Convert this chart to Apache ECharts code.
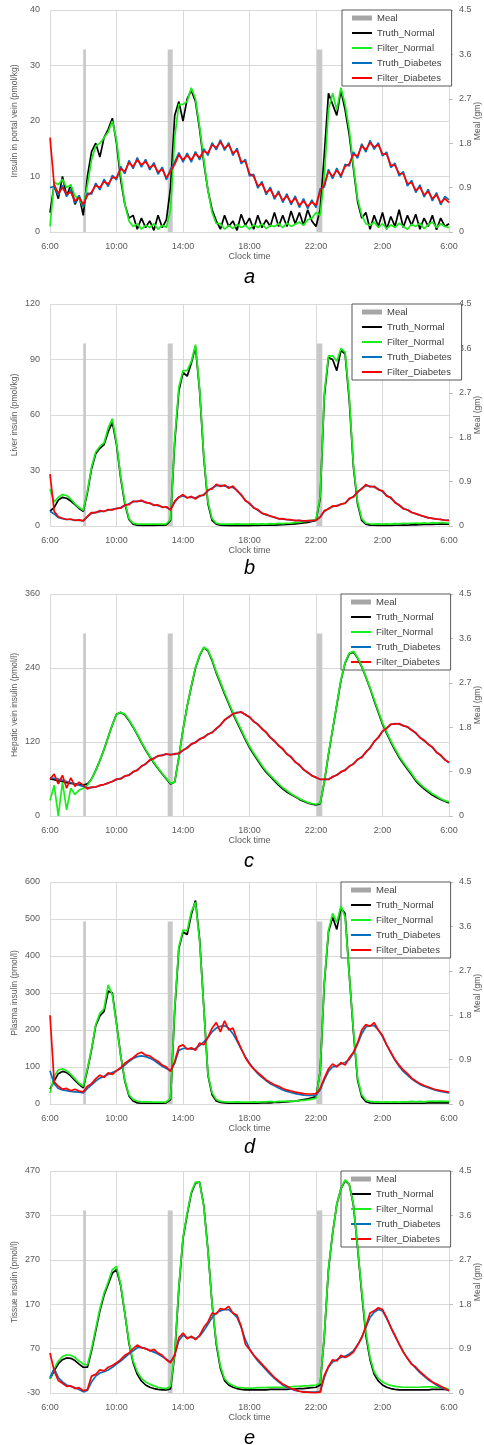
<!DOCTYPE html>
<html>
<head>
<meta charset="utf-8">
<script src="https://cdn.jsdelivr.net/npm/echarts@6/dist/echarts.min.js"></script>
<style>
  html, body { margin: 0; padding: 0; background: #fff; }
  #chart { width: 484px; height: 1445px; }
</style>
</head>
<body>
<div id="chart"></div>
<script>
// sampling grid: hours after 6:00, one point every 15 min
const times = Array.from({ length: 97 }, (_, i) => i / 4);
const clockLabels = ['6:00', '10:00', '14:00', '18:00', '22:00', '2:00', '6:00'];
const seriesNames = ['Truth_Normal', 'Filter_Normal', 'Truth_Diabetes', 'Filter_Diabetes'];
const panelLetters = ['a', 'b', 'c', 'd', 'e'];
const yNames = ['Insulin in portal vein (pmol/kg)', 'Liver insulin (pmol/kg)', 'Hepatic vein insulin (pmol/l)', 'Plasma insulin (pmol/l)', 'Tissue insulin (pmol/l)'];
const yMin = [0, 0, 0, 0, -30];
const yMax = [40, 120, 360, 600, 470];
const yStep = [10, 30, 120, 100, 100];

// meals (hours after 6:00, size in gm)
const mealStart = [2.0, 7.08, 16.06];
const mealEnd = [2.16, 7.38, 16.38];
const mealSize = [3.7, 3.7, 3.7];

// a - portal vein
const aTruthNormal = [
  3.5, 8.5, 6, 10, 6.5, 8.5, 5, 6.5,
  3, 10, 14.5, 16, 13.5, 17, 18.5, 20.5,
  16, 9.5, 5, 2.5, 3, 0.5, 2.5, 0.8,
  2, 0.3, 3, 0.8, 2.2, 8, 21, 23.5,
  20, 24, 25.5, 23.5, 18.5, 12.5, 7.5, 4,
  2, 0.5, 3, 1, 2, 0.3, 3.2, 1.2,
  2.5, 0.5, 3, 0.8, 2.2, 1, 3.5, 1,
  3, 1, 3.8, 1.5, 3.5, 1.2, 4, 2,
  1, 4, 14, 25, 23, 21, 25.5, 22,
  17.5, 11.5, 5.5, 2.5, 3.5, 0.5, 3, 1,
  3.5, 0.5, 2.8, 1, 4, 0.8, 3, 1.2,
  3.2, 0.5, 2.5, 1, 3, 0.4, 2.5, 1,
  1.5
];
const aFilterNormal = [
  1, 9, 8.5, 9.5, 8, 8.5, 6.5, 6,
  4.5, 8.5, 13, 15.5, 16, 17, 18, 20,
  16.5, 10.5, 5, 2, 1, 1.5, 0.5, 1.2,
  0.8, 1.5, 0.5, 1.2, 0.8, 4, 17, 23,
  23, 23.5, 26, 24, 19, 13, 7.5, 3.5,
  1.5, 1.5, 0.5, 1.2, 0.6, 1.4, 0.8, 1.2,
  0.5, 1.3, 0.8, 1.5, 0.6, 1.2, 1, 1.5,
  0.8, 1.6, 1, 1.4, 1.8, 1.2, 2.2, 2.5,
  3.5, 3, 10, 22, 25, 22, 26, 23,
  18.5, 12, 6, 3, 1.5, 1.2, 1.8, 0.8,
  1.5, 0.6, 1.3, 0.8, 1.6, 1, 0.5, 1.4,
  1, 1.6, 0.6, 1.3, 1.8, 0.8, 1.5, 1,
  0.8
];
const aTruthDiabetes = [
  8, 8.2, 6.6, 8.4, 6.4, 7.6, 5.2, 6.6,
  4.6, 7, 6.8, 8.8, 7.6, 9.5, 8.2, 10.2,
  9.4, 11.8, 10.5, 12.9, 11.4, 13.4, 11.7, 13.1,
  11.2, 12.5, 10.4, 11.7, 9.4, 11.3, 12.6, 14.3,
  12.6, 14.2, 12.6, 14.5, 13, 15, 13.8, 16.1,
  14.8, 16.6, 14.7, 16.1, 13.8, 15.1, 12.3, 13.1,
  10.1, 10.4, 7.9, 9.1, 6.7, 8.1, 5.9, 7.4,
  5.3, 6.9, 4.9, 6.5, 4.4, 6, 4.2, 5.8,
  4.4, 7.8, 8.1, 11.3, 9.6, 11.5, 9.8, 12.2,
  11.9, 14.4, 13.3, 15.9, 14.4, 16.5, 14.9, 16.1,
  13.7, 14.4, 11.6, 12.4, 10.1, 10.9, 8.3, 9.3,
  7.1, 8.5, 6.3, 7.7, 5.6, 7.1, 4.9, 6.4,
  5.8
];
const aFilterDiabetes = [
  17, 8.5, 7, 8, 6.8, 7.2, 5.6, 6.2,
  5, 6.6, 7.2, 8.4, 8, 9.1, 8.6, 9.8,
  9.8, 11.4, 10.9, 12.5, 11.8, 13, 12.1, 12.7,
  11.6, 12.1, 10.8, 11.3, 9.8, 10.9, 12.2, 13.9,
  13, 13.8, 13, 14.1, 13.4, 14.6, 14.2, 15.7,
  15.2, 16.2, 15.1, 15.7, 14.2, 14.7, 12.7, 12.7,
  10.5, 10, 8.3, 8.7, 7.1, 7.7, 6.3, 7,
  5.7, 6.5, 5.3, 6.1, 4.8, 5.6, 4.6, 5.4,
  4.8, 7.4, 8.5, 10.9, 10, 11.1, 10.2, 11.8,
  12.3, 14, 13.7, 15.5, 14.8, 16.1, 15.3, 15.7,
  14.1, 14, 12, 12, 10.5, 10.5, 8.7, 8.9,
  7.5, 8.1, 6.7, 7.3, 6, 6.7, 5.3, 6,
  5.3
];

// b - liver
const bTruthNormal = [
  8, 10, 14, 15.5, 15, 13.5, 11.5, 9.5,
  8, 18, 31, 39, 42, 44, 51, 56,
  44, 26, 12, 3.5, 1, 0.5, 0.3, 0.3,
  0.3, 0.3, 0.4, 0.5, 0.6, 3, 45, 73,
  83, 81, 88, 97, 73, 37, 12, 3,
  1, 0.5, 0.3, 0.2, 0.2, 0.2, 0.2, 0.2,
  0.2, 0.3, 0.3, 0.4, 0.4, 0.5, 0.5, 0.6,
  0.7, 0.8, 1, 1.2, 1.4, 1.7, 2, 2.5,
  3, 15, 70, 91, 90, 84, 95, 93,
  68, 32, 12, 3, 1, 0.5, 0.4, 0.3,
  0.3, 0.3, 0.3, 0.4, 0.4, 0.5, 0.5, 0.6,
  0.6, 0.7, 0.8, 0.8, 0.9, 1, 1, 1,
  1
];
const bFilterNormal = [
  20, 13, 15.5, 17, 16.5, 14.5, 12, 10,
  8.5, 19, 32, 40, 43, 45, 53, 58,
  45, 27, 13, 4, 1.5, 1, 1, 1,
  1, 1, 1, 1, 1.2, 3.5, 47, 75,
  84, 84, 89, 98, 74, 38, 13, 4,
  1.5, 1, 1, 1, 1, 1.2, 1, 1,
  1, 1.2, 1, 1.2, 1, 1.3, 1.2, 1.4,
  1.3, 1.5, 1.6, 1.8, 2, 2.3, 2.6, 3,
  3.5, 16, 72, 92, 92, 89, 96, 94,
  70, 33, 13, 4, 1.5, 1.2, 1, 1.2,
  1, 1.2, 1, 1.3, 1.2, 1.5, 1.3, 1.5,
  1.6, 1.4, 1.7, 1.5, 1.8, 1.6, 1.9, 1.7,
  1.5
];
const bTruthDiabetes = [
  8, 6.5, 4.6, 4, 3.6, 3.5, 3.1, 3,
  2.9, 5, 6.8, 7.4, 7.8, 8.1, 8.5, 9,
  9.4, 10, 11, 12, 13, 13.4, 13.4, 13,
  12.2, 11.5, 11, 10.4, 10, 9, 12.8, 15.6,
  16.2, 15.5, 15.4, 15.2, 16, 17, 19, 20.6,
  21.8, 22, 21.6, 21, 20.8, 19.4, 16.6, 14,
  12, 10, 8.5, 7, 6, 5.4, 4.6, 4,
  3.7, 3.5, 3.2, 3, 2.9, 2.8, 2.8, 2.9,
  3, 4.8, 7.8, 9.4, 10.4, 11, 11.6, 12.4,
  14.4, 16, 18, 20.4, 21.8, 21.6, 21, 20,
  18.6, 16.6, 15, 13, 11.2, 9.6, 8.6, 7.4,
  6.6, 5.9, 5.1, 4.6, 4.1, 3.8, 3.5, 3.2,
  3
];
const bFilterDiabetes = [
  28, 8, 5, 4.2, 3.5, 3.8, 3, 3.3,
  2.8, 5.2, 7.3, 7.2, 8.4, 7.8, 8.9, 8.7,
  9.5, 9.6, 11.4, 11.6, 13.5, 13.1, 14, 12.6,
  12.4, 11.1, 11.4, 10.1, 10.4, 8.6, 13.4, 15.6,
  17, 15.1, 16, 14.6, 16.5, 16.6, 19.6, 20,
  22.6, 21.4, 22.2, 20.4, 21.6, 19, 17, 13.6,
  12.4, 9.7, 8.9, 6.8, 6.3, 5.3, 4.8, 3.9,
  4, 3.4, 3.4, 2.9, 3.1, 2.7, 2.9, 2.9,
  3.1, 4.8, 8.3, 9.2, 10.9, 10.7, 11.9, 12.2,
  15, 15.6, 18.6, 20, 22.5, 21.1, 21.5, 19.6,
  19, 16.1, 15.5, 12.6, 11.4, 9.2, 8.8, 7.3,
  6.7, 5.8, 5.2, 4.4, 4.1, 3.7, 3.6, 3.1,
  3
];

// c - hepatic vein
const cTruthNormal = [
  60, 59, 57, 56, 54, 53, 52, 51,
  50, 52, 60, 74, 90, 108, 128, 148,
  165, 168, 164, 155, 144, 132, 119, 107,
  96, 86, 77, 68, 60, 52, 55, 95,
  140, 178, 210, 240, 260, 273, 268, 252,
  232, 215, 198, 182, 166, 152, 138, 124,
  111, 100, 90, 80, 71, 64, 57, 50,
  44, 39, 35, 31, 27, 24, 21, 19,
  18, 20, 55, 100, 140, 180, 220, 248,
  263, 266, 256, 242, 225, 207, 187, 168,
  149, 134, 120, 107, 95, 85, 76, 67,
  57, 50, 44, 39, 34, 30, 27, 24,
  21
];
const cFilterNormal = [
  25, 50, 0, 55, 10, 45, 35, 42,
  45, 50, 60, 74, 90, 108, 128, 148,
  165, 168, 165, 156, 145, 133, 120, 108,
  97, 87, 78, 69, 61, 53, 55, 95,
  140, 178, 211, 241, 261, 274, 269, 254,
  234, 217, 200, 184, 168, 154, 140, 126,
  113, 102, 92, 82, 73, 66, 59, 52,
  46, 41, 36, 32, 28, 25, 22, 20,
  19, 21, 56, 101, 141, 181, 221, 249,
  264, 267, 257, 243, 226, 208, 189, 170,
  151, 136, 122, 109, 97, 87, 78, 69,
  59, 52, 46, 41, 36, 32, 28, 25,
  23
];
const cTruthDiabetes = [
  62, 61, 60, 58, 56, 54, 52, 50,
  48, 46, 46, 47, 49, 51, 53, 56,
  59, 61, 64, 67, 71, 75, 80, 85,
  90, 94, 97, 99, 100, 100, 100, 102,
  106, 111, 116, 120, 124, 128, 132, 136,
  141, 148, 155, 161, 165, 168, 168, 165,
  160, 154, 148, 142, 135, 128, 121, 115,
  108, 101, 95, 88, 82, 76, 70, 66,
  62, 60, 59, 60, 63, 67, 71, 75,
  80, 85, 91, 96, 103, 111, 120, 128,
  137, 143, 148, 150, 149, 147, 144, 140,
  134, 128, 122, 117, 111, 104, 98, 92,
  86
];
const cFilterDiabetes = [
  60, 68, 52, 66, 45, 62, 48, 55,
  50, 44, 47, 47, 50, 51, 54, 56,
  60, 60, 65, 66, 72, 74, 81, 84,
  91, 93, 98, 98, 101, 99, 101, 101,
  107, 110, 117, 119, 125, 127, 133, 135,
  142, 147, 156, 160, 166, 167, 169, 164,
  161, 153, 149, 141, 136, 127, 122, 114,
  109, 100, 96, 87, 83, 75, 71, 65,
  63, 59, 60, 59, 64, 66, 72, 74,
  81, 84, 92, 95, 104, 110, 121, 127,
  138, 142, 149, 149, 150, 146, 145, 139,
  135, 127, 123, 116, 112, 103, 99, 91,
  87
];

// d - plasma
const dTruthNormal = [
  40, 62, 82, 88, 85, 76, 64, 53,
  44, 92, 147, 212, 238, 250, 305, 300,
  218, 132, 62, 22, 8, 3, 2, 2,
  2, 2, 2, 2, 3, 12, 252, 420,
  465, 458, 512, 550, 445, 262, 78, 25,
  8, 4, 3, 2, 2, 2, 2, 2,
  2, 2, 2, 3, 3, 3, 4, 4,
  5, 6, 7, 8, 10, 12, 14, 17,
  20, 88, 325, 465, 505, 472, 530, 515,
  350, 195, 65, 20, 6, 3, 2, 2,
  2, 2, 2, 2, 2, 2, 2, 2,
  2, 2, 2, 3, 3, 3, 3, 3,
  3
];
const dFilterNormal = [
  30, 75, 92, 95, 90, 80, 68, 56,
  48, 95, 150, 215, 245, 258, 322, 295,
  215, 130, 65, 25, 12, 8, 6, 6,
  6, 5, 5, 5, 6, 15, 259, 425,
  470, 468, 520, 545, 440, 260, 80, 30,
  12, 7, 6, 5, 5, 6, 5, 5,
  5, 6, 5, 6, 6, 7, 6, 7,
  7, 8, 7, 8, 9, 10, 11, 13,
  15, 90, 330, 470, 515, 490, 535, 505,
  349, 200, 70, 25, 10, 7, 6, 6,
  5, 6, 5, 6, 5, 6, 6, 7,
  6, 7, 6, 7, 8, 7, 8, 7,
  7
];
const dTruthDiabetes = [
  90, 55, 42, 38, 36, 34, 33, 32,
  30, 42, 52, 62, 70, 75, 80, 85,
  90, 96, 105, 115, 123, 128, 130, 128,
  124, 118, 110, 102, 96, 90, 110, 145,
  150, 150, 148, 150, 158, 168, 180, 195,
  205, 210, 212, 205, 190, 170, 148, 128,
  110, 95, 82, 72, 63, 55, 49, 43,
  38, 34, 31, 28, 26, 24, 23, 23,
  24, 38, 65, 88, 100, 103, 108, 112,
  120, 138, 162, 190, 208, 212, 212, 200,
  182, 160, 138, 118, 102, 88, 78, 68,
  60, 53, 48, 44, 40, 37, 34, 32,
  30
];
const dFilterDiabetes = [
  240, 60, 48, 40, 42, 36, 40, 35,
  33, 48, 55, 68, 78, 72, 84, 80,
  90, 98, 110, 118, 125, 135, 140, 132,
  130, 122, 115, 105, 100, 88, 115, 155,
  160, 148, 152, 145, 165, 160, 180, 205,
  220, 195, 225, 200, 205, 175, 150, 125,
  108, 95, 85, 75, 65, 58, 52, 48,
  42, 38, 35, 32, 30, 28, 27, 27,
  28, 42, 70, 95, 108, 100, 112, 105,
  125, 140, 165, 200, 215, 210, 220, 200,
  185, 160, 140, 120, 105, 92, 82, 70,
  62, 55, 50, 46, 42, 38, 36, 34,
  32
];

// e - tissue
const eTruthNormal = [
  2, 20, 36, 45, 49, 48, 43, 35,
  28, 28, 65, 110, 155, 190, 215, 240,
  248, 212, 150, 82, 38, 12, -3, -12,
  -17, -20, -22, -23, -23, -21, 55, 205,
  318, 372, 420, 443, 445, 392, 292, 170,
  80, 25, -2, -12, -17, -20, -22, -23,
  -23, -23, -23, -23, -23, -22, -22, -22,
  -22, -22, -21, -21, -20, -20, -19, -18,
  -17, -12, 98, 248, 330, 395, 430, 448,
  440, 393, 298, 195, 100, 45, 12, -3,
  -12, -17, -20, -22, -23, -23, -23, -23,
  -23, -23, -23, -23, -22, -22, -22, -22,
  -23
];
const eFilterNormal = [
  2, 25, 42, 52, 56, 55, 50, 42,
  35, 33, 70, 115, 160, 195, 220, 248,
  255, 215, 150, 85, 42, 18, 3, -5,
  -10, -14, -17, -19, -20, -15, 60, 210,
  320, 375, 423, 445, 445, 390, 290, 170,
  85, 30, 2, -8, -13, -17, -18, -19,
  -19, -19, -18, -18, -18, -17, -17, -17,
  -17, -16, -16, -15, -15, -14, -14, -13,
  -12, -8, 100, 250, 330, 395, 430, 450,
  440, 395, 300, 200, 107, 50, 18, 3,
  -5, -10, -13, -15, -16, -17, -17, -17,
  -17, -17, -16, -16, -16, -17, -17, -18,
  -22
];
const eTruthDiabetes = [
  5, 25, 5, -5, -12, -15, -18, -22,
  -27, -24, -5, 8, 15, 18, 22, 28,
  35, 42, 50, 58, 65, 72, 73, 70,
  66, 62, 58, 52, 46, 40, 55, 88,
  100, 95, 95, 93, 98, 110, 125, 140,
  150, 155, 158, 158, 150, 140, 118, 90,
  70, 55, 42, 32, 22, 12, 3, -5,
  -12, -17, -21, -24, -26, -27, -28, -28,
  -28, -27, 5, 28, 40, 45, 50, 53,
  58, 65, 78, 95, 118, 140, 152, 158,
  155, 138, 118, 98, 80, 63, 48, 36,
  26, 16, 8, 0, -6, -12, -17, -21,
  -25
];
const eFilterDiabetes = [
  60, 20, -2, -8, -15, -14, -20, -18,
  -25, -22, 8, 12, 22, 20, 28, 32,
  38, 45, 55, 60, 70, 78, 72, 70,
  65, 68, 60, 55, 45, 38, 55, 95,
  105, 92, 98, 90, 100, 118, 130, 150,
  148, 160, 158, 165, 150, 145, 120, 80,
  68, 55, 45, 35, 25, 15, 5, -3,
  -10, -15, -20, -23, -26, -28, -28, -29,
  -29, -28, 10, 30, 45, 42, 55, 50,
  55, 62, 78, 95, 120, 150, 155, 162,
  158, 140, 118, 100, 80, 62, 48, 35,
  28, 18, 10, 2, -5, -10, -15, -20,
  -25
];

const panels = [
  [aTruthNormal, aFilterNormal, aTruthDiabetes, aFilterDiabetes],
  [bTruthNormal, bFilterNormal, bTruthDiabetes, bFilterDiabetes],
  [cTruthNormal, cFilterNormal, cTruthDiabetes, cFilterDiabetes],
  [dTruthNormal, dFilterNormal, dTruthDiabetes, dFilterDiabetes],
  [eTruthNormal, eFilterNormal, eTruthDiabetes, eFilterDiabetes]
];

const lineColors = ['#000000', '#1aee1a', '#0070c0', '#ff0000'];
const gridTops = [10, 304, 594, 882, 1171];
const legendLefts = [342, 352, 341, 341, 341];
const letterY = [277, 568, 861, 1147, 1438];
const FONT = 'Liberation Sans';
const GRID_COLOR = '#d9d9d9';
const LABEL_COLOR = '#595959';
const LINE_ICON = 'path://M0,0H20V2H0Z';

const chart = echarts.init(document.getElementById('chart'), null, { renderer: 'canvas' });

const grids = [], xAxes = [], yAxes = [], series = [], legends = [], letters = [];
const mealData = mealStart.map((s, i) => [s, mealEnd[i], mealSize[i]]);

panels.forEach((lines, p) => {
  grids.push({
    left: 50, width: 399, top: gridTops[p], height: 222,
    containLabel: false, outerBoundsMode: 'none'
  });

  xAxes.push({
    type: 'value', gridIndex: p, min: 0, max: 24, interval: 4,
    name: 'Clock time', nameLocation: 'middle', nameGap: 20, nameMoveOverlap: false,
    nameTextStyle: { fontFamily: FONT, fontSize: 9, color: LABEL_COLOR },
    axisLine: { show: false }, axisTick: { show: false },
    axisLabel: {
      fontFamily: FONT, fontSize: 9, color: LABEL_COLOR, margin: 10,
      formatter: v => clockLabels[Math.round(v / 4)]
    },
    splitLine: { show: true, lineStyle: { color: GRID_COLOR, width: 1 } }
  });

  yAxes.push({
    type: 'value', gridIndex: p, position: 'left',
    min: yMin[p], max: yMax[p], interval: yStep[p],
    name: yNames[p], nameLocation: 'middle', nameGap: 31, nameMoveOverlap: false,
    nameTextStyle: { fontFamily: FONT, fontSize: 8.5, color: LABEL_COLOR },
    axisLine: { show: false }, axisTick: { show: false },
    axisLabel: { fontFamily: FONT, fontSize: 9, color: LABEL_COLOR, margin: 10 },
    splitLine: { show: true, lineStyle: { color: GRID_COLOR, width: 1 } }
  });
  yAxes.push({
    type: 'value', gridIndex: p, position: 'right',
    min: 0, max: 4.5, interval: 0.9,
    name: 'Meal (gm)', nameLocation: 'middle', nameGap: 24, nameRotate: 90, nameMoveOverlap: false,
    nameTextStyle: { fontFamily: FONT, fontSize: 8.5, color: LABEL_COLOR },
    axisLine: { show: false },
    axisTick: { show: true, length: 4, lineStyle: { color: '#bfbfbf' } },
    axisLabel: { fontFamily: FONT, fontSize: 9, color: LABEL_COLOR, margin: 10 },
    splitLine: { show: false }
  });

  series.push({
    name: 'Meal', type: 'custom', xAxisIndex: p, yAxisIndex: 2 * p + 1,
    data: mealData, encode: { x: [0, 1], y: 2 }, z: 2,
    itemStyle: { color: '#c8c8c8' },
    renderItem: (params, api) => {
      const top = api.coord([api.value(0), api.value(2)]);
      const bottom = api.coord([api.value(1), 0]);
      return {
        type: 'rect',
        shape: { x: top[0], y: top[1], width: bottom[0] - top[0], height: bottom[1] - top[1] },
        style: { fill: '#c8c8c8' }
      };
    }
  });

  lines.forEach((vals, k) => {
    series.push({
      name: seriesNames[k], type: 'line', xAxisIndex: p, yAxisIndex: 2 * p,
      data: times.map((t, i) => [t, vals[i]]),
      symbol: 'none', showSymbol: false, z: 3 + k,
      lineStyle: { color: lineColors[k], width: 1.7 },
      itemStyle: { color: lineColors[k] }
    });
  });

  // legend box sits above the grid lines but under the curves
  legends.push({
    left: legendLefts[p], top: gridTops[p], orient: 'vertical',
    backgroundColor: '#fff', borderColor: '#595959', borderWidth: 1,
    padding: [2, 10, 2, 10], itemGap: 3, itemWidth: 20, itemHeight: 5,
    selectedMode: false, z: 1,
    textStyle: { fontFamily: FONT, fontSize: 9.5, color: '#404040', lineHeight: 12 },
    data: [{ name: 'Meal', icon: 'rect', itemStyle: { color: '#a6a6a6' } }]
      .concat(seriesNames.map((n, k) => ({ name: n, icon: LINE_ICON, itemStyle: { color: lineColors[k] } })))
  });

  letters.push({
    type: 'text', left: 244, top: letterY[p] - 10,
    style: { text: panelLetters[p], font: 'italic 20px ' + FONT, fill: '#000' }
  });
});

chart.setOption({
  animation: false,
  backgroundColor: '#fff',
  grid: grids,
  xAxis: xAxes,
  yAxis: yAxes,
  legend: legends,
  graphic: letters,
  series: series
});
</script>
</body>
</html>
